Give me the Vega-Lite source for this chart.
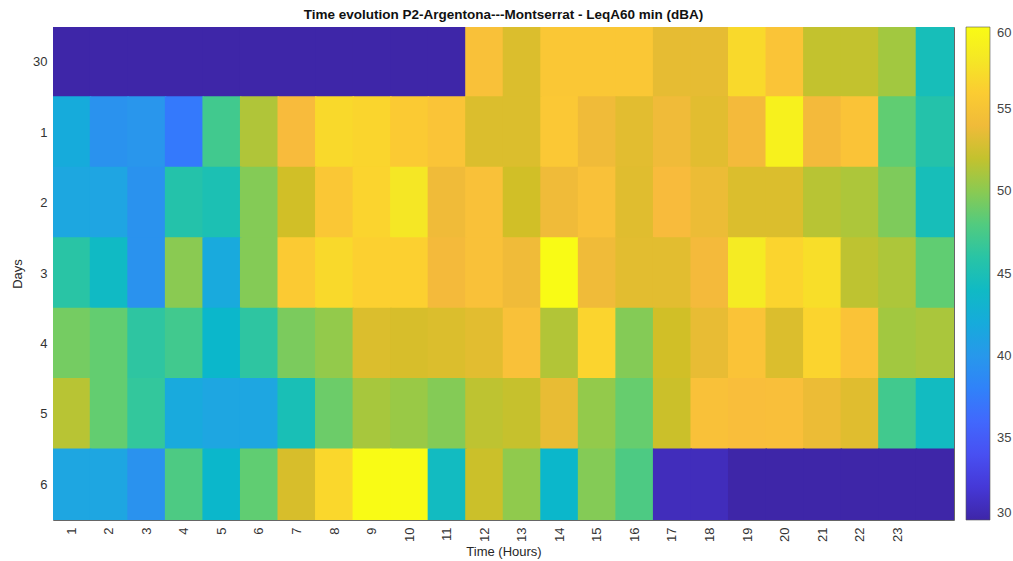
{
  "$schema": "https://vega.github.io/schema/vega-lite/v6.json",
  "autosize": {"type": "none"},
  "width": 901,
  "height": 493,
  "padding": {"left": 53, "top": 27, "right": 59, "bottom": 41},
  "background": "white",
  "config": {
    "view": {"stroke": null},
    "font": "Liberation Sans",
    "axis": {"labelFont": "Liberation Sans", "titleFont": "Liberation Sans", "labelColor": "#333", "titleColor": "#262626", "labelFontSize": 13, "titleFontSize": 13, "titleFontWeight": "normal", "domainColor": "#666", "domainWidth": 1, "tickColor": "#333", "tickWidth": 1, "tickSize": -5, "grid": false, "zindex": 1}
  },
  "title": {"text": "Time evolution P2-Argentona---Montserrat - LeqA60 min (dBA)", "fontSize": 13.5, "fontWeight": "bold", "color": "#111", "font": "Liberation Sans", "anchor": "middle", "offset": 5},
  "data": {"values": [
    {"day":"30","hour":1,"leq":30},{"day":"30","hour":2,"leq":30},{"day":"30","hour":3,"leq":30},{"day":"30","hour":4,"leq":30},{"day":"30","hour":5,"leq":30},{"day":"30","hour":6,"leq":30},{"day":"30","hour":7,"leq":30},{"day":"30","hour":8,"leq":30},{"day":"30","hour":9,"leq":30},{"day":"30","hour":10,"leq":30},{"day":"30","hour":11,"leq":30},{"day":"30","hour":12,"leq":55},{"day":"30","hour":13,"leq":53},{"day":"30","hour":14,"leq":55.5},{"day":"30","hour":15,"leq":55.5},{"day":"30","hour":16,"leq":55.5},{"day":"30","hour":17,"leq":53.5},{"day":"30","hour":18,"leq":53.5},{"day":"30","hour":19,"leq":57},{"day":"30","hour":20,"leq":55.3},{"day":"30","hour":21,"leq":52},{"day":"30","hour":22,"leq":52},{"day":"30","hour":23,"leq":50.8},{"day":"30","hour":24,"leq":44.8},
    {"day":"1","hour":1,"leq":42},{"day":"1","hour":2,"leq":39.5},{"day":"1","hour":3,"leq":39.8},{"day":"1","hour":4,"leq":37.3},{"day":"1","hour":5,"leq":47.3},{"day":"1","hour":6,"leq":51.3},{"day":"1","hour":7,"leq":54.5},{"day":"1","hour":8,"leq":57},{"day":"1","hour":9,"leq":56.7},{"day":"1","hour":10,"leq":55.8},{"day":"1","hour":11,"leq":55.3},{"day":"1","hour":12,"leq":53},{"day":"1","hour":13,"leq":53},{"day":"1","hour":14,"leq":55.6},{"day":"1","hour":15,"leq":54},{"day":"1","hour":16,"leq":53.3},{"day":"1","hour":17,"leq":54},{"day":"1","hour":18,"leq":53.3},{"day":"1","hour":19,"leq":54.2},{"day":"1","hour":20,"leq":59},{"day":"1","hour":21,"leq":54.2},{"day":"1","hour":22,"leq":55.2},{"day":"1","hour":23,"leq":48.6},{"day":"1","hour":24,"leq":45.7},
    {"day":"2","hour":1,"leq":41.5},{"day":"2","hour":2,"leq":41.3},{"day":"2","hour":3,"leq":39.5},{"day":"2","hour":4,"leq":45.7},{"day":"2","hour":5,"leq":45.2},{"day":"2","hour":6,"leq":49.8},{"day":"2","hour":7,"leq":52.5},{"day":"2","hour":8,"leq":55.5},{"day":"2","hour":9,"leq":56.6},{"day":"2","hour":10,"leq":58},{"day":"2","hour":11,"leq":54},{"day":"2","hour":12,"leq":55},{"day":"2","hour":13,"leq":52.5},{"day":"2","hour":14,"leq":54},{"day":"2","hour":15,"leq":55},{"day":"2","hour":16,"leq":53.2},{"day":"2","hour":17,"leq":54.5},{"day":"2","hour":18,"leq":53.8},{"day":"2","hour":19,"leq":53},{"day":"2","hour":20,"leq":53},{"day":"2","hour":21,"leq":51.6},{"day":"2","hour":22,"leq":51.2},{"day":"2","hour":23,"leq":49.6},{"day":"2","hour":24,"leq":44.8},
    {"day":"3","hour":1,"leq":46},{"day":"3","hour":2,"leq":44},{"day":"3","hour":3,"leq":39.5},{"day":"3","hour":4,"leq":50},{"day":"3","hour":5,"leq":41.8},{"day":"3","hour":6,"leq":49.8},{"day":"3","hour":7,"leq":55.8},{"day":"3","hour":8,"leq":57},{"day":"3","hour":9,"leq":56.3},{"day":"3","hour":10,"leq":56.3},{"day":"3","hour":11,"leq":54.2},{"day":"3","hour":12,"leq":55},{"day":"3","hour":13,"leq":54},{"day":"3","hour":14,"leq":60},{"day":"3","hour":15,"leq":54},{"day":"3","hour":16,"leq":53.3},{"day":"3","hour":17,"leq":53.3},{"day":"3","hour":18,"leq":54.2},{"day":"3","hour":19,"leq":58.3},{"day":"3","hour":20,"leq":56.6},{"day":"3","hour":21,"leq":57.3},{"day":"3","hour":22,"leq":51.8},{"day":"3","hour":23,"leq":51.2},{"day":"3","hour":24,"leq":48.6},
    {"day":"4","hour":1,"leq":49.3},{"day":"4","hour":2,"leq":48.7},{"day":"4","hour":3,"leq":46.3},{"day":"4","hour":4,"leq":47.3},{"day":"4","hour":5,"leq":43.5},{"day":"4","hour":6,"leq":46.3},{"day":"4","hour":7,"leq":49.5},{"day":"4","hour":8,"leq":50.3},{"day":"4","hour":9,"leq":53},{"day":"4","hour":10,"leq":52.8},{"day":"4","hour":11,"leq":53},{"day":"4","hour":12,"leq":53.3},{"day":"4","hour":13,"leq":55},{"day":"4","hour":14,"leq":51.4},{"day":"4","hour":15,"leq":56.6},{"day":"4","hour":16,"leq":49.8},{"day":"4","hour":17,"leq":52.5},{"day":"4","hour":18,"leq":53.6},{"day":"4","hour":19,"leq":55.2},{"day":"4","hour":20,"leq":53},{"day":"4","hour":21,"leq":56.6},{"day":"4","hour":22,"leq":55.2},{"day":"4","hour":23,"leq":50.8},{"day":"4","hour":24,"leq":51.1},
    {"day":"5","hour":1,"leq":51.6},{"day":"5","hour":2,"leq":48.7},{"day":"5","hour":3,"leq":46.6},{"day":"5","hour":4,"leq":41.8},{"day":"5","hour":5,"leq":41.4},{"day":"5","hour":6,"leq":41.4},{"day":"5","hour":7,"leq":45},{"day":"5","hour":8,"leq":49},{"day":"5","hour":9,"leq":51},{"day":"5","hour":10,"leq":50.5},{"day":"5","hour":11,"leq":49.8},{"day":"5","hour":12,"leq":51.8},{"day":"5","hour":13,"leq":52.1},{"day":"5","hour":14,"leq":53.6},{"day":"5","hour":15,"leq":50.3},{"day":"5","hour":16,"leq":48.8},{"day":"5","hour":17,"leq":52.3},{"day":"5","hour":18,"leq":55},{"day":"5","hour":19,"leq":54.7},{"day":"5","hour":20,"leq":54.8},{"day":"5","hour":21,"leq":53.8},{"day":"5","hour":22,"leq":53.2},{"day":"5","hour":23,"leq":47.3},{"day":"5","hour":24,"leq":44.2},
    {"day":"6","hour":1,"leq":41.4},{"day":"6","hour":2,"leq":41.4},{"day":"6","hour":3,"leq":39.5},{"day":"6","hour":4,"leq":47.8},{"day":"6","hour":5,"leq":43.5},{"day":"6","hour":6,"leq":48.6},{"day":"6","hour":7,"leq":52.8},{"day":"6","hour":8,"leq":56.8},{"day":"6","hour":9,"leq":60},{"day":"6","hour":10,"leq":60},{"day":"6","hour":11,"leq":44.2},{"day":"6","hour":12,"leq":52.3},{"day":"6","hour":13,"leq":50.2},{"day":"6","hour":14,"leq":43.5},{"day":"6","hour":15,"leq":49.8},{"day":"6","hour":16,"leq":47.8},{"day":"6","hour":17,"leq":30.8},{"day":"6","hour":18,"leq":30.8},{"day":"6","hour":19,"leq":30},{"day":"6","hour":20,"leq":30},{"day":"6","hour":21,"leq":30},{"day":"6","hour":22,"leq":30},{"day":"6","hour":23,"leq":30},{"day":"6","hour":24,"leq":30}
  ]},
  "layer": [
    {
      "mark": {"type": "rect", "strokeWidth": 0, "width": {"band": 1.04}, "height": {"band": 1.03}, "clip": true},
      "encoding": {
        "x": {"field": "hour", "type": "ordinal", "scale": {"paddingInner": 0, "paddingOuter": 0},
              "axis": {"orient": "bottom", "title": "Time (Hours)", "values": [1,2,3,4,5,6,7,8,9,10,11,12,13,14,15,16,17,18,19,20,21,22,23], "labelAngle": -90, "labelPadding": 12, "titleY": 31, "titleBaseline": "middle"}},
        "y": {"field": "day", "type": "ordinal", "sort": ["30","1","2","3","4","5","6"], "scale": {"paddingInner": 0, "paddingOuter": 0},
              "axis": {"orient": "left", "title": "Days", "labelPadding": 11, "titleX": -36, "titleBaseline": "middle", "titleAngle": 270}},
        "color": {"field": "leq", "type": "quantitative",
          "scale": {"domain": [30, 60], "clamp": true, "interpolate": "rgb",
            "range": ["#3E26A8","#4537D5","#484DF0","#4563FD","#327CFC","#2B91EF","#20A5E3","#08B5D0","#19BFB6","#37C897","#64CD6F","#9DC943","#D1BF27","#F8BA3D","#FCCF30","#F5E924","#F9FB15"]},
          "legend": {"type": "gradient", "title": null, "orient": "none", "legendX": 913, "legendY": 0, "direction": "vertical", "padding": 0,
            "gradientLength": 493, "gradientThickness": 24, "gradientStrokeColor": "#555", "gradientStrokeWidth": 0.6,
            "values": [30,35,40,45,50,55,60], "labelOffset": 7, "labelFontSize": 13, "labelColor": "#444", "labelFont": "Liberation Sans", "labelBaseline": "middle", "labelOverlap": false}}
      }
    },
    {
      "mark": {"type": "rect", "fillOpacity": 0, "strokeWidth": 0},
      "encoding": {
        "x": {"field": "hour", "type": "ordinal", "axis": {"orient": "top", "title": null, "labels": false, "values": [1,2,3,4,5,6,7,8,9,10,11,12,13,14,15,16,17,18,19,20,21,22,23]}},
        "y": {"field": "day", "type": "ordinal", "sort": ["30","1","2","3","4","5","6"], "axis": {"orient": "right", "title": null, "labels": false}}
      }
    }
  ],
  "resolve": {"axis": {"x": "independent", "y": "independent"}}
}
